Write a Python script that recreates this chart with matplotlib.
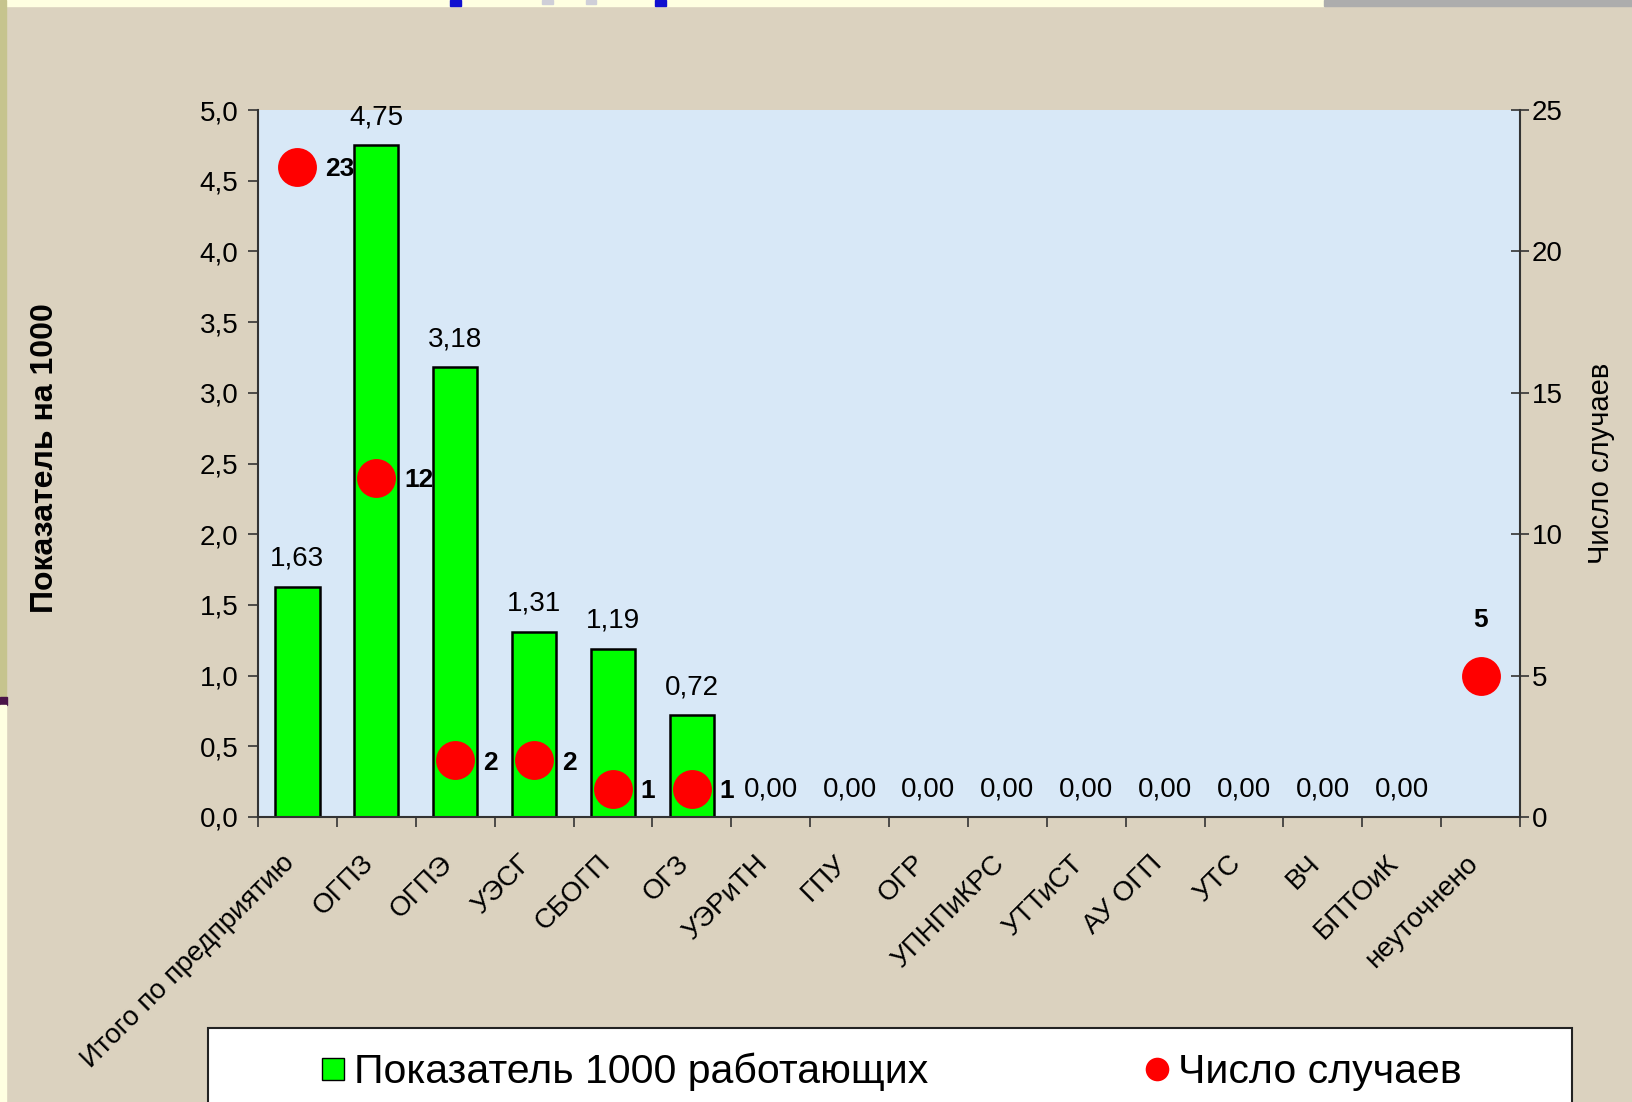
import numpy as np
import matplotlib
matplotlib.use("Agg")
import matplotlib.pyplot as plt
from matplotlib.patches import Rectangle
from matplotlib.lines import Line2D
from matplotlib.transforms import ScaledTranslation

plt.rcParams['font.family'] = ['Liberation Sans', 'DejaVu Sans']

# ----------------
#  DATA
# ----------------
categories = ["Итого по предприятию", "ОГПЗ", "ОГПЭ", "УЭСГ", "СБОГП", "ОГЗ",
              "УЭРиТН", "ГПУ", "ОГР", "УПНПиКРС", "УТТиСТ", "АУ ОГП", "УТС",
              "ВЧ", "БПТОиК", "неуточнено"]
rates = [1.63, 4.75, 3.18, 1.31, 1.19, 0.72, 0.0, 0.0, 0.0, 0.0, 0.0, 0.0,
         0.0, 0.0, 0.0, np.nan]          # Показатель 1000 работающих
cases = [23, 12, 2, 2, 1, 1, np.nan, np.nan, np.nan, np.nan, np.nan, np.nan,
         np.nan, np.nan, np.nan, 5]      # Число случаев
rate_ticks = [0.0, 0.5, 1.0, 1.5, 2.0, 2.5, 3.0, 3.5, 4.0, 4.5, 5.0]
case_ticks = [0, 5, 10, 15, 20, 25]

label_bar = "Показатель 1000 работающих"
label_dot = "Число случаев"

W, H = 1632, 1102
BG = '#DBD2BF'
fig = plt.figure(figsize=(W / 100, H / 100), dpi=100, facecolor=BG)


def px_rect(x0, y0, x1, y1, **kw):
    # rectangle given in pixels (top-left origin)
    r = Rectangle((x0 / W, 1 - y1 / H), (x1 - x0) / W, (y1 - y0) / H,
                  transform=fig.transFigure, zorder=0, **kw)
    fig.patches.append(r)


# slide leftovers round the chart
px_rect(0, 0, 1324, 6, color='#FFFFE1')
px_rect(1324, 0, W, 6, color='#ADADAD')
px_rect(450, 0, 461, 6, color='#1010D0')
px_rect(655, 0, 666, 6, color='#1010D0')
px_rect(542, 0, 553, 4, color='#CFCFD8')
px_rect(586, 0, 596, 4, color='#CFCFD8')
px_rect(0, 0, 6, 697, color='#C6C48E')
px_rect(0, 697, 7, 705, color='#4A1448')
px_rect(0, 705, 6, H, color='#FFFFE1')

# legend box (runs off the bottom)
px_rect(208, 1028, 1572, H + 20, facecolor='white', edgecolor='#222222', linewidth=1.5)

# ----------------
#  AXES
# ----------------
ax = fig.add_axes([258 / W, 1 - 817 / H, (1520 - 258) / W, (817 - 110) / H])
ax.set_facecolor('#D8E8F7')

x = np.arange(len(categories))
rates_a = np.array(rates, dtype=float)
cases_a = np.array(cases, dtype=float)
has_bar = ~np.isnan(rates_a)

ax.bar(x[has_bar], rates_a[has_bar], width=0.56, color='#00FF00',
       edgecolor='black', linewidth=1.8, zorder=2)
for xi, v in zip(x[has_bar], rates_a[has_bar]):
    ax.annotate(f"{v:.2f}".replace('.', ','), (xi, v), xytext=(0, 20),
                textcoords='offset points', ha='center', va='center', fontsize=20)

ax.set_xlim(-0.5, len(categories) - 0.5)
ax.set_ylim(0, 5)
ax.set_yticks(rate_ticks)
ax.set_yticklabels([f"{t:.1f}".replace('.', ',') for t in rate_ticks])
ax.tick_params(axis='y', direction='out', length=7, width=1.2, color='#333333',
               pad=7, labelsize=20)

ax.set_xticks(np.arange(-0.5, len(categories), 1), minor=True)
ax.set_xticks(x)
ax.set_xticklabels(categories, rotation=45, ha='right', va='top',
                   rotation_mode='anchor', fontsize=20)
ax.tick_params(axis='x', which='major', length=0, pad=24)
ax.tick_params(axis='x', which='minor', direction='out', length=7, width=1.2,
               color='#333333')
shift = ScaledTranslation(-16 / 100, 0, fig.dpi_scale_trans)
for lab in ax.get_xticklabels():
    lab.set_transform(lab.get_transform() + shift)

ax.set_ylabel("Показатель на 1000", fontsize=23, fontweight='bold')
ax.yaxis.set_label_coords(-0.157, 0.507)

for s in ['top', 'right']:
    ax.spines[s].set_visible(False)
for s in ['left', 'bottom']:
    ax.spines[s].set_color('#333333')
    ax.spines[s].set_linewidth(1.5)

# second axis: number of cases
ax2 = ax.twinx()
ax2.set_ylim(0, 25)
ax2.set_yticks(case_ticks)
ax2.tick_params(axis='y', direction='inout', length=13, width=1.2,
                color='#333333', pad=2, labelsize=20)
for s in ['top', 'left', 'bottom']:
    ax2.spines[s].set_visible(False)
ax2.spines['right'].set_color('#333333')
ax2.spines['right'].set_linewidth(1.5)

ax2.plot(x, cases_a, 'o', color='#FF0000', markersize=28, markeredgewidth=0, zorder=3)
last = len(categories) - 1
for xi, c in zip(x, cases_a):
    if np.isnan(c):
        continue
    if xi == last:
        ax2.annotate(f"{int(c)}", (xi, c), xytext=(0, 40), textcoords='offset points',
                     ha='center', va='center', fontsize=19, fontweight='bold')
    else:
        ax2.annotate(f"{int(c)}", (xi, c), xytext=(20, -2), textcoords='offset points',
                     ha='left', va='center', fontsize=19, fontweight='bold')

ax2.set_ylabel("Число случаев", fontsize=21)
ax2.yaxis.set_label_coords(1.053, 0.5)

# legend
handles = [Line2D([], [], marker='s', ls='none', markerfacecolor='#00FF00',
                  markeredgecolor='black', markersize=16),
           Line2D([], [], marker='o', ls='none', color='#FF0000',
                  markeredgewidth=0, markersize=17)]
fig.legend(handles, [label_bar, label_dot], loc='center left',
           bbox_to_anchor=(321 / W, 1 - 1072 / H), ncol=2, frameon=False,
           fontsize=29.5, handlelength=0.6, handletextpad=0.2, columnspacing=5.3,
           borderpad=0, borderaxespad=0)

fig.savefig("out.png", dpi=100, facecolor=BG)
